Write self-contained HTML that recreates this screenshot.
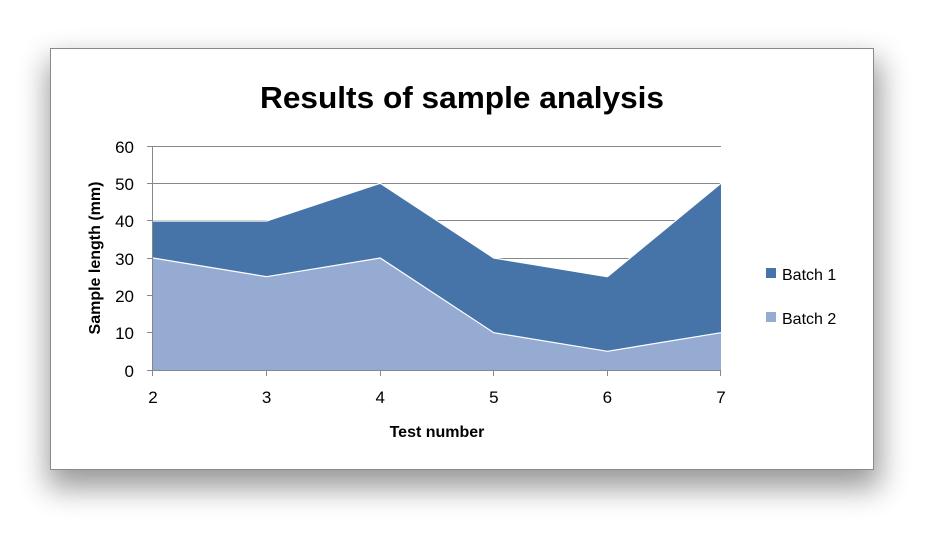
<!DOCTYPE html>
<html><head><meta charset="utf-8"><style>
body{margin:0;background:#fff;width:940px;height:537px;overflow:hidden;font-family:"Liberation Sans",sans-serif}
</style></head><body>
<svg width="940" height="537" xmlns="http://www.w3.org/2000/svg">
<defs><filter id="sh" x="-10%" y="-15%" width="120%" height="140%"><feGaussianBlur stdDeviation="15"/></filter></defs>
<rect x="48" y="60" width="832" height="428" fill="#000" opacity="0.4" filter="url(#sh)"/>
<rect x="50.5" y="48.5" width="823" height="421" fill="#fff" stroke="#8a8a8a"/>
<text x="462" y="108" font-size="31" font-weight="bold" text-anchor="middle" fill="#000" textLength="404" lengthAdjust="spacingAndGlyphs">Results of sample analysis</text>
<g stroke="#888" stroke-width="1">
<line x1="153" y1="146.5" x2="721" y2="146.5"/>
<line x1="153" y1="183.5" x2="721" y2="183.5"/>
<line x1="153" y1="220.5" x2="721" y2="220.5"/>
<line x1="153" y1="258.5" x2="721" y2="258.5"/>
<line x1="153" y1="295.5" x2="721" y2="295.5"/>
<line x1="153" y1="332.5" x2="721" y2="332.5"/>
</g>
<polygon points="153,221 266.6,221 380.2,183.3 493.8,258 607.4,276.7 721,183.3 721,332.7 607.4,351.3 493.8,332.7 380.2,258 266.6,276.7 153,258" fill="#4674a8"/>
<polygon points="153,258 266.6,276.7 380.2,258 493.8,332.7 607.4,351.3 721,332.7 721,370 153,370" fill="#95abd2"/>
<polyline points="153,258 266.6,276.7 380.2,258 493.8,332.7 607.4,351.3 721,332.7" fill="none" stroke="#fff" stroke-width="1.2"/>
<polyline points="153,221 266.6,221 380.2,183.3 493.8,258 607.4,276.7 721,183.3" fill="none" stroke="#fff" stroke-width="1.2"/>
<g stroke="#888" stroke-width="1">
<line x1="152.5" y1="146" x2="152.5" y2="370"/>
<line x1="147" y1="370.5" x2="721" y2="370.5"/>
<line x1="147" y1="146.5" x2="153" y2="146.5"/><line x1="147" y1="183.5" x2="153" y2="183.5"/>
<line x1="147" y1="220.5" x2="153" y2="220.5"/><line x1="147" y1="258.5" x2="153" y2="258.5"/>
<line x1="147" y1="295.5" x2="153" y2="295.5"/><line x1="147" y1="332.5" x2="153" y2="332.5"/>
<line x1="152.5" y1="370" x2="152.5" y2="376"/><line x1="266.5" y1="370" x2="266.5" y2="376"/>
<line x1="380.5" y1="370" x2="380.5" y2="376"/><line x1="493.5" y1="370" x2="493.5" y2="376"/>
<line x1="607.5" y1="370" x2="607.5" y2="376"/><line x1="720.5" y1="370" x2="720.5" y2="376"/>
</g>
<g font-size="17" fill="#000" text-anchor="end">
<text x="134" y="153">60</text><text x="134" y="190">50</text><text x="134" y="227">40</text>
<text x="134" y="265">30</text><text x="134" y="302">20</text><text x="134" y="339">10</text><text x="134" y="377">0</text>
</g>
<g font-size="17" fill="#000" text-anchor="middle">
<text x="153" y="403">2</text><text x="266.6" y="403">3</text><text x="380.2" y="403">4</text>
<text x="493.8" y="403">5</text><text x="607.4" y="403">6</text><text x="721" y="403">7</text>
</g>
<text x="437" y="437" font-size="16" font-weight="bold" text-anchor="middle">Test number</text>
<text transform="translate(100,258) rotate(-90)" font-size="16" font-weight="bold" text-anchor="middle">Sample length (mm)</text>
<rect x="766" y="268" width="10" height="10" fill="#4674a8"/>
<text x="782" y="280" font-size="16">Batch 1</text>
<rect x="766" y="312" width="10" height="10" fill="#95abd2"/>
<text x="782" y="324" font-size="16">Batch 2</text>
</svg>
</body></html>
